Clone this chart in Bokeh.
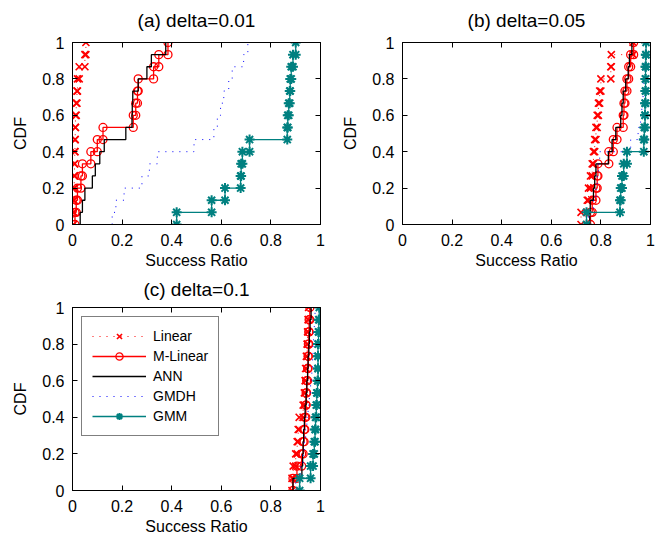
from bokeh.plotting import figure
from bokeh.layouts import column, row
from bokeh.models import LinearAxis, FixedTicker, CustomJSTickFormatter, Range1d
from bokeh.embed import file_html
from bokeh.resources import INLINE

# ---------------- data (sorted samples, 15 per method) ----------------
tick_values = [0, 0.2, 0.4, 0.6, 0.8, 1.0]
methods = ["Linear", "M-Linear", "ANN", "GMDH", "GMM"]

lin_a = [0.004, 0.005, 0.006, 0.007, 0.008, 0.009, 0.010, 0.011, 0.012, 0.015, 0.018, 0.020, 0.027, 0.050, 0.054]
mlin_a = [0.010, 0.015, 0.020, 0.034, 0.040, 0.074, 0.100, 0.123, 0.245, 0.255, 0.262, 0.265, 0.327, 0.348, 0.385]
ann_a = [0.031, 0.040, 0.050, 0.080, 0.092, 0.110, 0.128, 0.215, 0.240, 0.241, 0.243, 0.265, 0.300, 0.318, 0.376]
gmdh_a = [0.160, 0.175, 0.208, 0.280, 0.310, 0.342, 0.490, 0.570, 0.584, 0.597, 0.610, 0.630, 0.644, 0.690, 0.707]
gmm_a = [0.420, 0.561, 0.615, 0.678, 0.680, 0.685, 0.714, 0.866, 0.868, 0.872, 0.876, 0.878, 0.882, 0.889, 0.900]

lin_b = [0.720, 0.745, 0.750, 0.758, 0.765, 0.770, 0.775, 0.780, 0.785, 0.790, 0.795, 0.800, 0.840, 0.842, 0.930]
mlin_b = [0.758, 0.765, 0.780, 0.785, 0.788, 0.832, 0.850, 0.865, 0.890, 0.893, 0.897, 0.905, 0.912, 0.920, 0.932]
ann_b = [0.755, 0.757, 0.770, 0.775, 0.780, 0.830, 0.845, 0.860, 0.880, 0.885, 0.890, 0.900, 0.910, 0.915, 0.925]
gmdh_b = [0.750, 0.770, 0.780, 0.785, 0.790, 0.795, 0.920, 0.950, 0.960, 0.965, 0.970, 0.972, 0.975, 0.978, 0.980]
gmm_b = [0.742, 0.877, 0.880, 0.885, 0.892, 0.905, 0.973, 0.975, 0.978, 0.978, 0.980, 0.980, 0.980, 0.981, 0.982]

lin_c = [0.885, 0.890, 0.900, 0.906, 0.910, 0.914, 0.930, 0.935, 0.938, 0.940, 0.943, 0.946, 0.948, 0.950, 0.952]
mlin_c = [0.889, 0.905, 0.924, 0.930, 0.934, 0.937, 0.941, 0.942, 0.944, 0.948, 0.950, 0.951, 0.953, 0.954, 0.957]
ann_c = [0.889, 0.925, 0.928, 0.930, 0.932, 0.935, 0.938, 0.942, 0.945, 0.948, 0.950, 0.953, 0.955, 0.958, 0.962]
gmdh_c = [0.900, 0.920, 0.930, 0.935, 0.940, 0.945, 0.950, 0.955, 0.960, 0.965, 0.968, 0.970, 0.972, 0.975, 0.978]
gmm_c = [0.916, 0.960, 0.970, 0.975, 0.978, 0.980, 0.983, 0.985, 0.988, 0.990, 0.990, 0.990, 0.992, 0.993, 0.995]

titles = ["(a) delta=0.01", "(b) delta=0.05", "(c) delta=0.1"]

FONT = "Liberation Sans"
RED = "#ff0000"
BLUE = "#0000ff"
TEAL = "#008080"
BLACK = "#000000"


def cdf_steps(vals):
    xs, ys = [], []
    n = len(vals)
    for i, v in enumerate(sorted(vals)):
        xs += [v, v]
        ys += [i / n, (i + 1) / n]
    return xs, ys


def style_axis(ax, labels=True):
    ax.ticker = FixedTicker(ticks=tick_values)
    ax.major_tick_in = 5
    ax.major_tick_out = 0
    ax.minor_tick_in = 0
    ax.minor_tick_out = 0
    ax.axis_line_color = BLACK
    ax.axis_line_width = 1
    ax.major_tick_line_color = BLACK
    if labels:
        ax.formatter = CustomJSTickFormatter(code="return String(Math.round(tick*10)/10);")
        ax.major_label_text_font = FONT
        ax.major_label_text_font_size = "16px"
        ax.major_label_text_color = BLACK
        ax.axis_label_text_font = FONT
        ax.axis_label_text_font_size = "16px"
        ax.axis_label_text_font_style = "normal"
        ax.axis_label_text_color = BLACK
    else:
        ax.formatter = CustomJSTickFormatter(code="return '';")
        ax.major_label_text_font_size = "0px"
        ax.major_label_standoff = 0


def make_fig(title, left, right, top, bottom, fh, gap, title_standoff):
    p = figure(frame_width=248, frame_height=fh,
               x_range=Range1d(0, 1), y_range=Range1d(0, 1),
               output_backend="svg", toolbar_location=None,
               min_border_left=left, min_border_right=right,
               min_border_top=top, min_border_bottom=bottom,
               title=title)
    p.title.align = "center"
    p.title.text_font = FONT
    p.title.text_font_size = "19px"
    p.title.text_font_style = "normal"
    p.title.text_color = BLACK
    p.title.standoff = title_standoff
    p.grid.visible = False
    p.outline_line_color = BLACK
    p.outline_line_width = 1
    p.outline_line_alpha = 1
    p.background_fill_color = "white"
    p.border_fill_color = "white"
    p.xaxis.axis_label = "Success Ratio"
    p.yaxis.axis_label = "CDF"
    style_axis(p.xaxis[0])
    style_axis(p.yaxis[0])
    p.xaxis.major_label_standoff = 9
    p.xaxis.axis_label_standoff = 3
    p.yaxis.major_label_standoff = 8
    p.yaxis.axis_label_standoff = 10
    # box ticks on top and right (MATLAB-style box)
    ta = LinearAxis()
    style_axis(ta, labels=False)
    p.add_layout(ta, "above")
    # invisible spacer between the frame and the title
    sp = LinearAxis()
    style_axis(sp, labels=False)
    sp.major_tick_in = 0
    sp.major_tick_out = gap
    sp.major_tick_line_color = None
    sp.axis_line_color = None
    p.add_layout(sp, "above")
    ra = LinearAxis()
    style_axis(ra, labels=False)
    p.add_layout(ra, "right")
    return p


def draw(p, lin, mlin, ann, gmdh, gmm, legend=False):
    kw = (lambda name: dict(legend_label=name)) if legend else (lambda name: {})
    x, y = cdf_steps(lin)
    p.line(x, y, line_color=RED, line_width=1, line_dash="1 6", **kw(methods[0]))
    p.scatter(x, y, marker="x", size=10, line_color=RED, line_width=1.6, **kw(methods[0]))
    x, y = cdf_steps(mlin)
    p.line(x, y, line_color=RED, line_width=1.3, **kw(methods[1]))
    p.scatter(x, y, marker="circle", size=8, line_color=RED, fill_color=None, line_width=1.3, **kw(methods[1]))
    x, y = cdf_steps(ann)
    p.line(x, y, line_color=BLACK, line_width=1.3, **kw(methods[2]))
    x, y = cdf_steps(gmdh)
    p.line(x, y, line_color=BLUE, line_width=1, line_dash="1 6", **kw(methods[3]))
    x, y = cdf_steps(gmm)
    p.line(x, y, line_color=TEAL, line_width=1.3, **kw(methods[4]))
    p.scatter(x, y, marker="asterisk", size=10, line_color=TEAL, line_width=2, **kw(methods[4]))


pa = make_fig(titles[0], 72, 18, 42, 50, 182, 10, 4)
draw(pa, lin_a, mlin_a, ann_a, gmdh_a, gmm_a)
pb = make_fig(titles[1], 64, 12, 42, 50, 182, 10, 4)
draw(pb, lin_b, mlin_b, ann_b, gmdh_b, gmm_b)
pc = make_fig(titles[2], 72, 18, 33, 44, 183, 7, 2)
draw(pc, lin_c, mlin_c, ann_c, gmdh_c, gmm_c, legend=True)

lg = pc.legend[0]
lg.location = "top_left"
lg.margin = 9
lg.padding = 10
lg.spacing = 2
lg.glyph_width = 54
lg.glyph_height = 18
lg.label_height = 18
lg.label_standoff = 7
lg.label_text_font = FONT
lg.label_text_font_size = "14px"
lg.label_text_color = BLACK
lg.border_line_color = BLACK
lg.border_line_width = 1
lg.background_fill_color = "white"
lg.background_fill_alpha = 1

layout = column(row(pa, pb), pc)

open("out.html", "w").write(file_html(layout, INLINE))
